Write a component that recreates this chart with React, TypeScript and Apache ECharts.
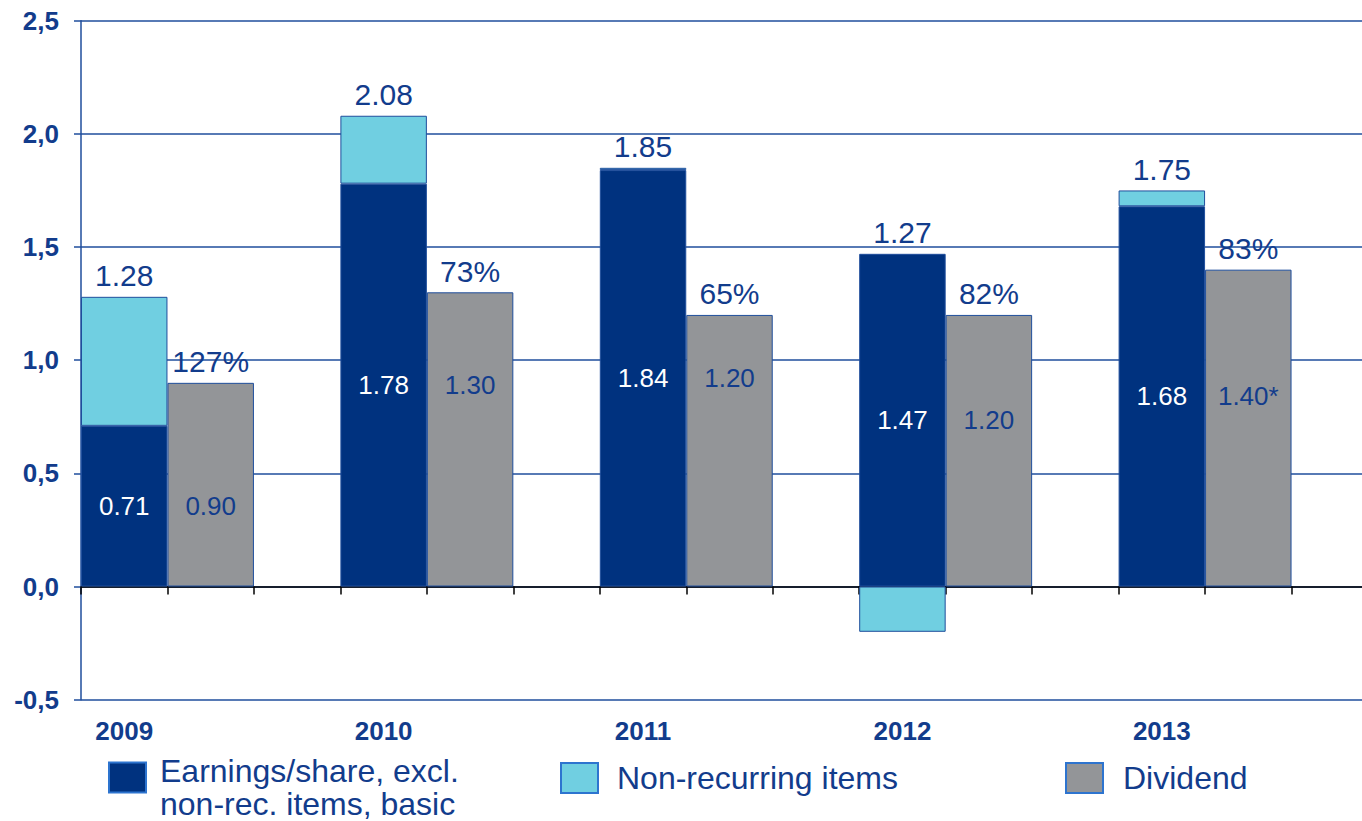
import React, { useEffect, useRef } from 'react';
import * as echarts from 'echarts';

const years = ['2009', '2010', '2011', '2012', '2013'];
const epsExclNonRec = [0.71, 1.78, 1.84, 1.47, 1.68];
const nonRecurring = [0.57, 0.30, 0.01, -0.20, 0.07];
const dividend = [0.90, 1.30, 1.20, 1.20, 1.40];
const payoutRatio = [127, 73, 65, 82, 83];
const dividendNote = ['', '', '', '', '*'];
const yMin = -0.5;
const yMax = 2.5;
const yInterval = 0.5;
const seriesNames = [
  'Earnings/share, excl. non-rec. items, basic',
  'Non-recurring items',
  'Dividend',
];

const NAVY = '#00327F';
const CYAN = '#70CFE1';
const GREY = '#939598';
const BORDER = '#1F4E9C';
const TEXT = '#123C8C';
const FONT = '"Liberation Sans", Arial, Helvetica, sans-serif';

// each year occupies three slots on the category axis: EPS bar, dividend bar, gap
const slotCategories = years.flatMap((y) => [`${y} EPS`, `${y} dividend`, `${y} gap`]);
const yearOf = (slot: number) => Math.floor(slot / 3);
const atSlot = (offset: number, values: number[]) =>
  slotCategories.map((_, i) => (i % 3 === offset ? values[yearOf(i)] : '-'));

const totals = years.map((_, k) => epsExclNonRec[k] + nonRecurring[k]);
const totalsLabelHeight = years.map((_, k) => Math.max(epsExclNonRec[k], totals[k]));
const epsMid = epsExclNonRec.map((v) => v / 2);

export default function App() {
  const ref = useRef<HTMLDivElement>(null);
  useEffect(() => {
    document.body.style.margin = '0';
    const chart = echarts.init(ref.current!, null, { renderer: 'svg' });
    const legendBase = {
      orient: 'horizontal',
      padding: 0,
      icon: 'rect',
      itemWidth: 37,
      itemHeight: 30,
      itemStyle: { borderColor: '#2D74CF', borderWidth: 2 },
      selectedMode: false,
    };
    chart.setOption({
      animation: false,
      textStyle: { fontFamily: FONT },
      grid: {
        left: 81,
        width: 1297,
        top: 20.7,
        bottom: 121.3,
        containLabel: false,
        outerBoundsMode: 'none',
      },
      xAxis: [
        {
          type: 'category',
          data: slotCategories,
          position: 'bottom',
          axisLine: { show: false, onZero: false },
          axisTick: { show: false },
          splitLine: { show: false },
          axisLabel: {
            interval: 0,
            margin: 18,
            fontSize: 26,
            fontWeight: 'bold',
            color: TEXT,
            fontFamily: FONT,
            formatter: (_: string, i: number) => (i % 3 === 0 ? years[yearOf(i)] : ''),
          },
        },
        {
          type: 'category',
          data: slotCategories,
          position: 'bottom',
          axisLine: { show: true, onZero: true, lineStyle: { color: '#000', width: 1.5 } },
          axisTick: { show: true, interval: 0, length: 8, lineStyle: { color: '#000', width: 1.5 } },
          axisLabel: { show: false },
          splitLine: { show: false },
        },
      ],
      yAxis: {
        type: 'value',
        min: yMin,
        max: yMax,
        interval: yInterval,
        axisLine: { show: true, lineStyle: { color: BORDER, width: 1.5 } },
        axisTick: { show: true, length: 7, lineStyle: { color: BORDER, width: 1.5 } },
        splitLine: { show: true, lineStyle: { color: BORDER, width: 1.5 } },
        axisLabel: {
          margin: 22,
          fontSize: 26,
          fontWeight: 'bold',
          color: TEXT,
          fontFamily: FONT,
          formatter: (v: number) => v.toFixed(1).replace('.', ','),
        },
      },
      legend: [
        {
          ...legendBase,
          data: [seriesNames[0]],
          left: 108,
          top: 735,
          formatter: '{s| }\n{a|Earnings/share, excl.}\n{a|non-rec. items, basic}',
          textStyle: {
            color: TEXT,
            fontFamily: FONT,
            padding: [0, 0, 0, 9],
            rich: {
              s: { fontSize: 10, lineHeight: 19, height: 19 },
              a: { fontSize: 32, lineHeight: 33, color: TEXT, fontFamily: FONT },
            },
          },
        },
        {
          ...legendBase,
          data: [seriesNames[1]],
          left: 560,
          top: 761.5,
          textStyle: { fontSize: 32, lineHeight: 33, color: TEXT, fontFamily: FONT, padding: [0, 0, 0, 14] },
        },
        {
          ...legendBase,
          data: [seriesNames[2]],
          left: 1065,
          top: 761.5,
          textStyle: { fontSize: 32, lineHeight: 33, color: TEXT, fontFamily: FONT, padding: [0, 0, 0, 15] },
        },
      ],
      series: [
        {
          name: seriesNames[0],
          type: 'bar',
          stack: 'all',
          barWidth: '100%',
          barGap: '0%',
          barCategoryGap: '0%',
          data: atSlot(0, epsExclNonRec),
          itemStyle: { color: NAVY, borderColor: BORDER, borderWidth: 1 },
          label: {
            show: true,
            position: 'inside',
            color: '#fff',
            fontSize: 26,
            fontFamily: FONT,
            formatter: (p: any) => epsExclNonRec[yearOf(p.dataIndex)].toFixed(2),
          },
        },
        {
          name: seriesNames[1],
          type: 'bar',
          stack: 'all',
          barWidth: '100%',
          data: atSlot(0, nonRecurring),
          itemStyle: { color: CYAN, borderColor: BORDER, borderWidth: 1 },
        },
        {
          name: seriesNames[2],
          type: 'bar',
          stack: 'all',
          barWidth: '100%',
          data: atSlot(1, dividend),
          itemStyle: { color: GREY, borderColor: BORDER, borderWidth: 1 },
          label: {
            show: true,
            position: 'top',
            distance: 6,
            color: TEXT,
            fontSize: 30,
            fontFamily: FONT,
            formatter: (p: any) => `${payoutRatio[yearOf(p.dataIndex)]}%`,
          },
        },
        {
          name: 'totals',
          type: 'scatter',
          data: atSlot(0, totalsLabelHeight),
          symbolSize: 0.1,
          itemStyle: { color: 'transparent', opacity: 1 },
          label: {
            show: true,
            position: 'top',
            distance: 6,
            color: TEXT,
            opacity: 1,
            fontSize: 30,
            fontFamily: FONT,
            formatter: (p: any) => totals[yearOf(p.dataIndex)].toFixed(2),
          },
          z: 5,
        },
        {
          name: 'dividend values',
          type: 'scatter',
          data: atSlot(1, epsMid),
          symbolSize: 0.1,
          itemStyle: { color: 'transparent', opacity: 1 },
          label: {
            show: true,
            position: 'inside',
            color: TEXT,
            opacity: 1,
            fontSize: 26,
            fontFamily: FONT,
            formatter: (p: any) => {
              const k = yearOf(p.dataIndex);
              return dividend[k].toFixed(2) + dividendNote[k];
            },
          },
          z: 5,
        },
      ],
    });
    return () => chart.dispose();
  }, []);
  return (
    <div
      ref={ref}
      style={{ position: 'absolute', left: 0, top: 0, width: 1362, height: 821 }}
    />
  );
}
